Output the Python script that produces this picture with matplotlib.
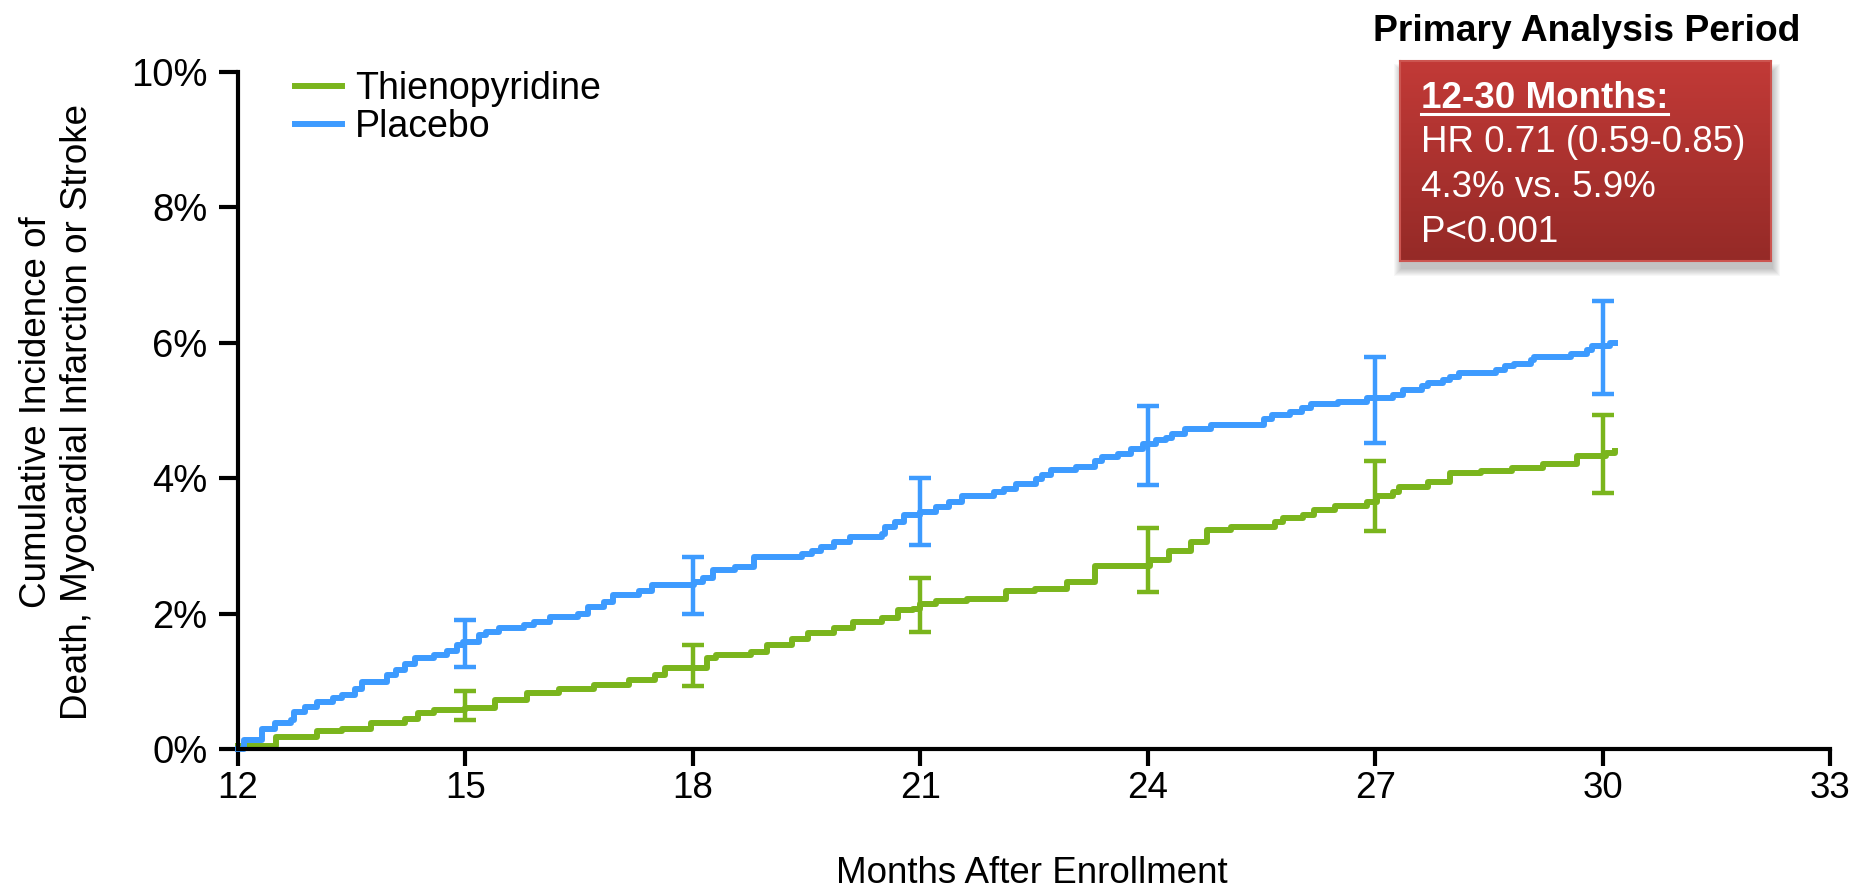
import numpy as np
import matplotlib
matplotlib.use('Agg')
import matplotlib.pyplot as plt
from matplotlib.patches import Rectangle
from matplotlib.lines import Line2D
from matplotlib.colors import LinearSegmentedColormap

plt.rcParams['font.family'] = ['Liberation Sans', 'DejaVu Sans']

W, H = 1850, 888

# placebo: month after enrollment -> cumulative incidence (%)
blue_t = [12.0, 12.08, 12.32, 12.49, 12.70, 12.74, 12.89, 13.04, 13.25, 13.37, 13.54, 13.63,
          13.96, 14.09, 14.20, 14.34, 14.59, 14.76, 14.89, 14.97, 15.18, 15.27, 15.44, 15.77,
          15.90, 16.11, 16.49, 16.62, 16.83, 16.95, 17.29, 17.46, 18.01, 18.13, 18.26, 18.55,
          18.81, 19.44, 19.57, 19.69, 19.86, 20.07, 20.49, 20.53, 20.66, 20.79, 21.00, 21.21,
          21.38, 21.55, 21.97, 22.10, 22.26, 22.52, 22.60, 22.73, 23.06, 23.31, 23.40, 23.61,
          23.78, 23.94, 24.11, 24.24, 24.32, 24.49, 24.83, 25.53, 25.64, 25.88, 26.03, 26.16,
          26.51, 26.89, 27.24, 27.37, 27.62, 27.70, 27.90, 27.99, 28.10, 28.60, 28.71, 28.83,
          29.05, 29.09, 29.59, 29.79, 29.86, 30.10, 30.17]
blue_v = [0.0, 0.14, 0.30, 0.38, 0.43, 0.55, 0.62, 0.70, 0.75, 0.80, 0.89, 0.99,
          1.09, 1.16, 1.26, 1.34, 1.39, 1.45, 1.53, 1.58, 1.68, 1.73, 1.78, 1.83,
          1.88, 1.95, 2.00, 2.10, 2.17, 2.27, 2.34, 2.42, 2.47, 2.52, 2.64, 2.69,
          2.84, 2.88, 2.93, 2.98, 3.06, 3.13, 3.18, 3.28, 3.35, 3.45, 3.50, 3.57,
          3.65, 3.73, 3.79, 3.84, 3.92, 3.99, 4.04, 4.12, 4.16, 4.26, 4.31, 4.36,
          4.43, 4.51, 4.56, 4.60, 4.65, 4.73, 4.78, 4.88, 4.94, 4.98, 5.03, 5.10,
          5.12, 5.18, 5.23, 5.31, 5.36, 5.41, 5.45, 5.50, 5.56, 5.60, 5.65, 5.69,
          5.75, 5.79, 5.83, 5.89, 5.95, 5.99, 5.99]

# thienopyridine
green_t = [12.0, 12.50, 13.04, 13.37, 13.75, 14.20, 14.38, 14.59, 15.00, 15.39, 15.81, 16.24,
           16.70, 17.16, 17.50, 17.63, 18.18, 18.30, 18.77, 18.98, 19.31, 19.52, 19.86, 20.11,
           20.49, 20.70, 20.91, 21.00, 21.21, 21.62, 22.13, 22.51, 22.93, 23.31, 24.03, 24.28,
           24.57, 24.78, 25.10, 25.68, 25.79, 26.05, 26.19, 26.47, 26.89, 27.02, 27.24, 27.31,
           27.70, 27.99, 28.39, 28.80, 29.22, 29.66, 30.05, 30.17]
green_v = [0.04, 0.18, 0.26, 0.29, 0.38, 0.45, 0.53, 0.57, 0.60, 0.72, 0.82, 0.89,
           0.94, 1.02, 1.09, 1.20, 1.34, 1.39, 1.43, 1.53, 1.63, 1.72, 1.78, 1.88,
           1.93, 2.05, 2.07, 2.14, 2.19, 2.22, 2.33, 2.37, 2.47, 2.71, 2.79, 2.93,
           3.06, 3.23, 3.28, 3.36, 3.41, 3.46, 3.53, 3.59, 3.65, 3.73, 3.79, 3.87,
           3.95, 4.07, 4.11, 4.15, 4.21, 4.33, 4.37, 4.40]

# confidence intervals
ci_t = [15, 18, 21, 24, 27, 30]
blue_lo = [1.21, 2.00, 3.01, 3.90, 4.52, 5.25]
blue_hi = [1.91, 2.84, 4.00, 5.07, 5.79, 6.62]
green_lo = [0.43, 0.93, 1.73, 2.32, 3.22, 3.78]
green_hi = [0.85, 1.53, 2.52, 3.26, 4.25, 4.94]

x_ticks = [12, 15, 18, 21, 24, 27, 30, 33]
y_ticks = [0, 2, 4, 6, 8, 10]
y_labels = ['0%', '2%', '4%', '6%', '8%', '10%']

box_lines = ['HR 0.71 (0.59-0.85)', '4.3% vs. 5.9%', 'P<0.001']

GREEN = '#7AB51D'
BLUE = '#3D9BFF'


def fx(px):
    return px / W


def fy(py):
    return 1 - py / H


fig = plt.figure(figsize=(W / 100, H / 100), dpi=100)
ax = fig.add_axes([fx(238), fy(749), (1830 - 238) / W, (749 - 72) / H])

g_line, = ax.plot(green_t, green_v, drawstyle='steps-post', color=GREEN, lw=4.3,
                  label='Thienopyridine', clip_on=False)
b_line, = ax.plot(blue_t, blue_v, drawstyle='steps-post', color=BLUE, lw=4.3,
                  label='Placebo', clip_on=False)

for lo, hi, c in [(green_lo, green_hi, GREEN), (blue_lo, blue_hi, BLUE)]:
    lo = np.array(lo)
    hi = np.array(hi)
    mid = (lo + hi) / 2
    ax.errorbar(ci_t, mid, yerr=[mid - lo, hi - mid], fmt='none', ecolor=c,
                elinewidth=3.2, capsize=8, capthick=3.2, clip_on=False)

ax.set_xlim(12, 33)
ax.set_ylim(0, 10)
ax.spines['top'].set_visible(False)
ax.spines['right'].set_visible(False)
for s in ['left', 'bottom']:
    ax.spines[s].set_linewidth(3)
ax.set_xticks(x_ticks)
ax.set_yticks(y_ticks, labels=y_labels)
ax.tick_params(axis='x', length=12, width=3, pad=4, labelsize=26.5)
ax.tick_params(axis='y', length=14, width=3, pad=8, labelsize=27.5)

ax.legend(handles=[g_line, b_line], loc='upper left', bbox_to_anchor=(fx(295), fy(71)),
          bbox_transform=fig.transFigure, frameon=False, fontsize=27,
          handlelength=1.25, handletextpad=0.35, labelspacing=0.05,
          borderpad=0, borderaxespad=0)

fig.text(fx(57), fy(412), 'Cumulative Incidence of\nDeath, Myocardial Infarction or Stroke',
         rotation=90, ha='center', va='center', multialignment='center',
         fontsize=26.5, linespacing=1.2)
fig.text(fx(1032), fy(883), 'Months After Enrollment', ha='center', va='baseline',
         fontsize=26.5)

# annotation box
fig.text(fx(1587), fy(40.7), 'Primary Analysis Period', ha='center', va='baseline',
         fontsize=26.8, fontweight='bold')

# soft shadow under the box
for k in range(1, 9):
    fig.patches.append(Rectangle((fx(1402 - k), fy(268 + k)), (370 + 2 * k) / W,
                                 (196 + 2 * k) / H, transform=fig.transFigure,
                                 facecolor='black', edgecolor='none', alpha=0.03,
                                 zorder=1))

bx = fig.add_axes([fx(1400), fy(261), 371 / W, 200 / H])
bx.set_zorder(5)
cmap = LinearSegmentedColormap.from_list('box', ['#C23A37', '#952A27'])
bx.imshow(np.linspace(0, 1, 200).reshape(-1, 1), cmap=cmap, aspect='auto',
          extent=[0, 1, 0, 1])
bx.set_xticks([])
bx.set_yticks([])
for s in bx.spines.values():
    s.set_color('#CC5550')
    s.set_linewidth(1.5)

t_head = bx.text((1421 - 1400) / 371, (261 - 108.3) / 200, '12-30 Months:',
                 color='white', fontsize=26.5, fontweight='bold', va='baseline',
                 transform=bx.transAxes)
for i, txt in enumerate(box_lines):
    bx.text((1421 - 1400) / 371, (261 - 151.7 - 45 * i) / 200, txt, color='white',
            fontsize=26.5, va='baseline', transform=bx.transAxes)

fig.canvas.draw()
bb = t_head.get_window_extent().transformed(bx.transAxes.inverted())
bx.add_line(Line2D([bb.x0, bb.x1], [(261 - 114) / 200] * 2, transform=bx.transAxes,
                   color='white', lw=2.2))

fig.savefig('out.png', dpi=100)
